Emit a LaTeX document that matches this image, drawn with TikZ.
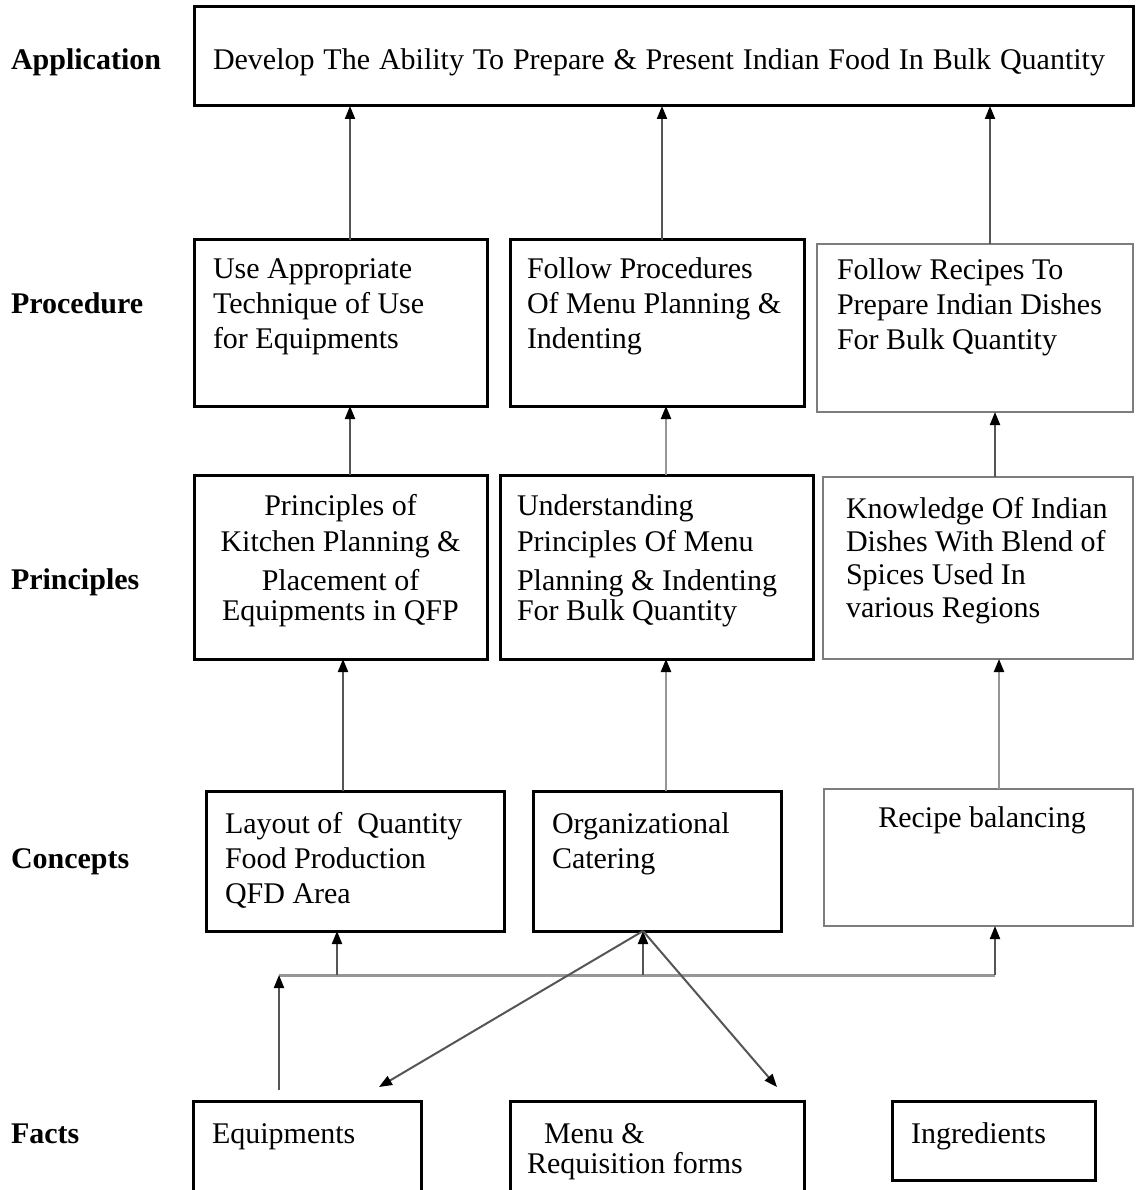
\documentclass[tikz,border=0pt]{standalone}
\usepackage{fontspec}
\setmainfont{Liberation Serif}
\usetikzlibrary{arrows.meta}

\definecolor{boxgray}{RGB}{125,125,125}
\definecolor{linedark}{RGB}{85,85,85}
\definecolor{linelight}{RGB}{150,150,150}

\tikzset{
  blackbox/.style={draw=black, line width=3pt, rectangle, inner sep=0pt, outer sep=0pt, fill=none},
  graybox/.style={draw=boxgray, line width=2.5pt, rectangle, inner sep=0pt, outer sep=0pt},
  % multi-line nodes are anchored on the baseline of their last line
  txt/.style={inner sep=0pt, outer sep=0pt, font=\fontsize{30pt}{35pt}\selectfont, align=left, anchor=base west},
  lvl/.style={inner sep=0pt, outer sep=0pt, font=\fontsize{30pt}{35pt}\selectfont\bfseries, anchor=base west},
  tipA/.tip={Triangle[length=13pt,width=10pt,color=black]},
  arrdark/.style={draw=linedark, line width=2pt, -tipA},
  arrlight/.style={draw=linelight, line width=2.2pt, -tipA},
  hubline/.style={draw=linelight, line width=3pt},
}

\begin{document}
\begin{tikzpicture}[x=1pt,y=-1pt]
\useasboundingbox (0,0) rectangle (1135,1190);
\clip (0,0) rectangle (1135,1190);

% level labels
\node[lvl] (lApp) at (11,70) {Application};
\node[lvl] (lProc) at (11,313) {Procedure};
\node[lvl] (lPrin) at (11,589) {Principles};
\node[lvl] (lConc) at (11,868) {Concepts};
\node[lvl] (lFact) at (11,1143) {Facts};

% boxes
\node[blackbox, minimum width=939pt, minimum height=99pt] (app) at (663.5,56.5) {};
\node[blackbox, minimum width=293pt, minimum height=166pt] (p1) at (340.5,323) {};
\node[blackbox, minimum width=294pt, minimum height=166pt] (p2) at (657,323) {};
\node[graybox,  minimum width=316pt, minimum height=168pt] (p3) at (975,328) {};
\node[blackbox, minimum width=293pt, minimum height=184pt] (pr1) at (340.5,567) {};
\node[blackbox, minimum width=313pt, minimum height=184pt] (pr2) at (656.5,567) {};
\node[graybox,  minimum width=310pt, minimum height=182pt] (pr3) at (978,568) {};
\node[blackbox, minimum width=298pt, minimum height=140pt] (c1) at (355,861) {};
\node[blackbox, minimum width=248pt, minimum height=140pt] (c2) at (657,861) {};
\node[graybox,  minimum width=309pt, minimum height=137pt] (c3) at (978.5,857.5) {};
\node[blackbox, minimum width=228pt, minimum height=99pt] (f1) at (307,1150.5) {};
\node[blackbox, minimum width=294pt, minimum height=99pt] (f2) at (657,1150.5) {};
\node[blackbox, minimum width=203pt, minimum height=79pt] (f3) at (993.5,1140.5) {};

% box texts
\node[txt] (tApp) at (213,70) {\makebox[892pt][s]{Develop The Ability To Prepare \& Present Indian Food In Bulk Quantity}};
\node[txt] (tP1) at (213,348) {Use Appropriate\\Technique of Use\\for Equipments};
\node[txt] (tP2) at (527,348) {Follow Procedures\\Of Menu Planning \&\\Indenting};
\node[txt] (tP3) at (837,349) {Follow Recipes To\\Prepare Indian Dishes\\For Bulk Quantity};
\node[txt, align=center, anchor=base] (tPr1) at (340.5,620) {Principles of\\[1pt]Kitchen Planning \&\\[4pt]Placement of\\[-5pt]Equipments in QFP};
\node[txt] (tPr2) at (517,620) {Understanding\\[1pt]Principles Of Menu\\[4pt]Planning \& Indenting\\[-5pt]For Bulk Quantity};
\node[txt, font=\fontsize{30pt}{33pt}\selectfont] (tPr3) at (846,617) {Knowledge Of Indian\\Dishes With Blend of\\Spices Used In\\various Regions};
\node[txt] (tC1) at (225,903) {Layout of \ Quantity\\Food Production\\QFD Area};
\node[txt] (tC2) at (552,868) {Organizational\\Catering};
\node[txt, anchor=base] (tC3) at (982,827) {Recipe balancing};
\node[txt] (tF1) at (212,1143) {Equipments};
\node[txt] (tF2) at (527,1173) {\hspace{17pt}Menu \&\\[-5pt]Requisition forms};
\node[txt] (tF3) at (911,1143) {Ingredients};

% upward links between levels
\draw[arrdark]  ([xshift=9.5pt]p1.north) -- ([xshift=9.5pt]p1.north |- app.south);
\draw[arrdark]  ([xshift=5pt]p2.north) -- ([xshift=5pt]p2.north |- app.south);
\draw[arrdark]  ([xshift=15pt]p3.north) -- ([xshift=15pt]p3.north |- app.south);

\draw[arrdark]  ([xshift=9.5pt]pr1.north) -- ([xshift=9.5pt]pr1.north |- p1.south);
\draw[arrlight] ([xshift=9.5pt]pr2.north) -- ([xshift=9.5pt]pr2.north |- p2.south);
\draw[arrdark]  ([xshift=17pt]pr3.north) -- ([xshift=17pt]pr3.north |- p3.south);

\draw[arrdark]  ([xshift=-12pt]c1.north) -- ([xshift=-12pt]c1.north |- pr1.south);
\draw[arrlight] ([xshift=9pt]c2.north) -- ([xshift=9pt]c2.north |- pr2.south);
\draw[arrlight] ([xshift=20.5pt]c3.north) -- ([xshift=20.5pt]c3.north |- pr3.south);

% facts to concepts distribution
\coordinate (hubL) at (279,975);
\coordinate (hubR) at (995,975);
\draw[hubline] (hubL) -- (hubR);
\draw[arrdark] ([xshift=-28pt,yshift=11pt]f1.north) -- (hubL);
\draw[arrdark] ([xshift=-18pt]c1.south |- hubL) -- ([xshift=-18pt]c1.south);
\draw[arrdark] ([xshift=-14pt]c2.south |- hubL) -- ([xshift=-14pt]c2.south);
\draw[arrdark] ([xshift=16.5pt]c3.south |- hubL) -- ([xshift=16.5pt]c3.south);
\draw[arrdark] ([xshift=-14pt]c2.south) -- ([xshift=72pt,yshift=14pt]f1.north);
\draw[arrdark] ([xshift=-14pt]c2.south) -- ([xshift=120pt,yshift=14pt]f2.north);
\end{tikzpicture}
\end{document}
